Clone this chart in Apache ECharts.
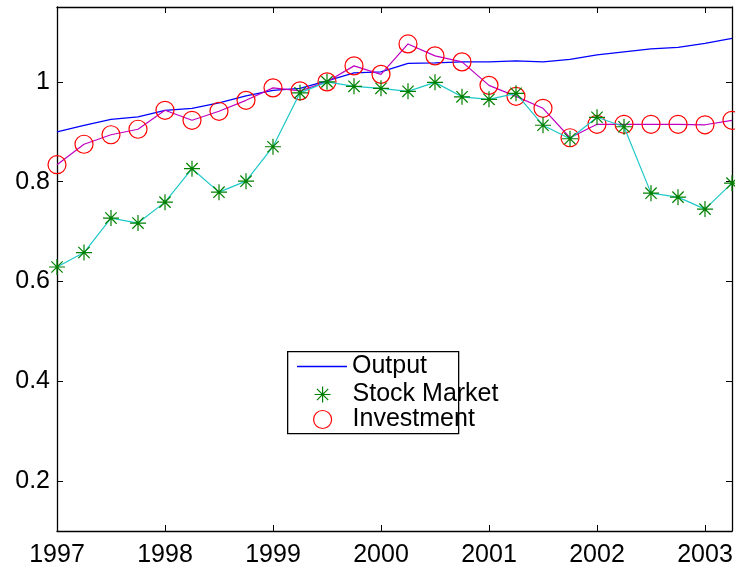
<!DOCTYPE html>
<html><head><meta charset="utf-8">
<script src="https://cdn.jsdelivr.net/npm/echarts@6/dist/echarts.min.js"></script>
<style>html,body{margin:0;padding:0;background:#fff}#c{width:735px;height:570px}</style>
</head><body><div id="c"></div>
<script>
const quarters = [1997, 1997.25, 1997.5, 1997.75, 1998, 1998.25, 1998.5, 1998.75,
  1999, 1999.25, 1999.5, 1999.75, 2000, 2000.25, 2000.5, 2000.75,
  2001, 2001.25, 2001.5, 2001.75, 2002, 2002.25, 2002.5, 2002.75, 2003, 2003.25];
const output = [0.900, 0.913, 0.925, 0.930, 0.943, 0.947, 0.958, 0.972, 0.983, 0.987, 1.002, 1.018, 1.020,
  1.037, 1.038, 1.040, 1.040, 1.042, 1.040, 1.045, 1.054, 1.060, 1.066, 1.069, 1.077, 1.087];
const stockMarket = [0.629, 0.658, 0.727, 0.717, 0.759, 0.826, 0.779, 0.801, 0.870, 0.978, 1.000, 0.991, 0.987,
  0.981, 0.999, 0.970, 0.965, 0.977, 0.913, 0.886, 0.929, 0.910, 0.777, 0.769, 0.745, 0.797];
const investment = [0.834, 0.875, 0.894, 0.905, 0.943, 0.923, 0.941, 0.963, 0.988, 0.982, 1.000, 1.032, 1.015,
  1.076, 1.052, 1.040, 0.993, 0.971, 0.947, 0.888, 0.915, 0.915, 0.915, 0.915, 0.914, 0.923];
const seriesNames = ['Output', 'Stock Market', 'Investment'];
const xMin = 1997, xMax = 2003.25, yMin = 0.1, yMax = 1.15;

const pair = (xs, ys) => xs.map((x, i) => [x, ys[i]]);
const FONT = 'Liberation Sans, Arial, Helvetica, sans-serif';
const FS = 25;
const star = 'path://M0,-10L0,10M-10,0L10,0M-7.07,-7.07L7.07,7.07M-7.07,7.07L7.07,-7.07';
const axisLine = {show: true, lineStyle: {color: '#000', width: 1.3}};
const tick = {show: true, inside: true, length: 6, lineStyle: {color: '#000', width: 1}};
const legText = (padLeft) => ({fontSize: FS, fontFamily: FONT, color: '#000', padding: [0, 0, 0, padLeft]});

const chart = echarts.init(document.getElementById('c'), null, {renderer: 'canvas'});
chart.setOption({
  backgroundColor: '#fff',
  animation: false,
  grid: {left: 57, right: 3, top: 7, bottom: 39, containLabel: false, outerBoundsMode: 'none'},
  xAxis: [
    {type: 'value', min: xMin, max: xMax, interval: 1, position: 'bottom',
     axisLine, axisTick: tick, splitLine: {show: false},
     axisLabel: {show: true, showMaxLabel: false, margin: 12, color: '#000', fontSize: FS, fontFamily: FONT,
       formatter: v => String(v)}},
    {type: 'value', min: xMin, max: xMax, interval: 1, position: 'top',
     axisLine, axisTick: tick, splitLine: {show: false}, axisLabel: {show: false}}
  ],
  yAxis: [
    {type: 'value', min: yMin, max: yMax, splitNumber: 5, position: 'left',
     axisLine, axisTick: tick, splitLine: {show: false},
     axisLabel: {show: true, showMinLabel: false, showMaxLabel: false, margin: 7, color: '#000', fontSize: FS, fontFamily: FONT}},
    {type: 'value', min: yMin, max: yMax, splitNumber: 5, position: 'right',
     axisLine, axisTick: tick, splitLine: {show: false}, axisLabel: {show: false}}
  ],
  legend: [
    {data: [{name: 'Output', icon: 'rect', itemStyle: {color: '#0000ff', borderWidth: 0}}],
     left: 297, top: 354, padding: 0, itemWidth: 50, itemHeight: 1.3, selectedMode: false,
     textStyle: legText(0)},
    {data: [{name: 'Stock Market', icon: star, itemStyle: {color: 'transparent', borderColor: '#008000', borderWidth: 1.2}}],
     left: 314, top: 382, padding: 0, itemWidth: 16, itemHeight: 16, selectedMode: false,
     textStyle: legText(17)},
    {data: [{name: 'Investment', icon: 'circle', itemStyle: {color: 'transparent', borderColor: '#ff0000', borderWidth: 1.2}}],
     left: 313, top: 407, padding: 0, itemWidth: 18, itemHeight: 18, selectedMode: false,
     textStyle: legText(16)}
  ],
  graphic: [
    {type: 'rect', left: 287, top: 351, z: 0,
     shape: {width: 171, height: 82}, style: {fill: '#fff', stroke: '#000', lineWidth: 1.3}}
  ],
  series: [
    {name: seriesNames[0], type: 'line', data: pair(quarters, output), symbol: 'none',
     lineStyle: {color: '#0000ff', width: 1.3}, itemStyle: {color: '#0000ff'}, z: 2},
    {name: seriesNames[2], type: 'line', data: pair(quarters, investment), symbol: 'circle', symbolSize: 18,
     lineStyle: {color: '#c000c0', width: 1.2},
     itemStyle: {color: 'transparent', borderColor: '#ff0000', borderWidth: 1.2}, z: 3},
    {name: seriesNames[1], type: 'line', data: pair(quarters, stockMarket), symbol: star, symbolSize: 16,
     lineStyle: {color: '#1ec8c8', width: 1.2},
     itemStyle: {color: 'transparent', borderColor: '#008000', borderWidth: 1.2}, z: 4}
  ]
});
</script></body></html>
